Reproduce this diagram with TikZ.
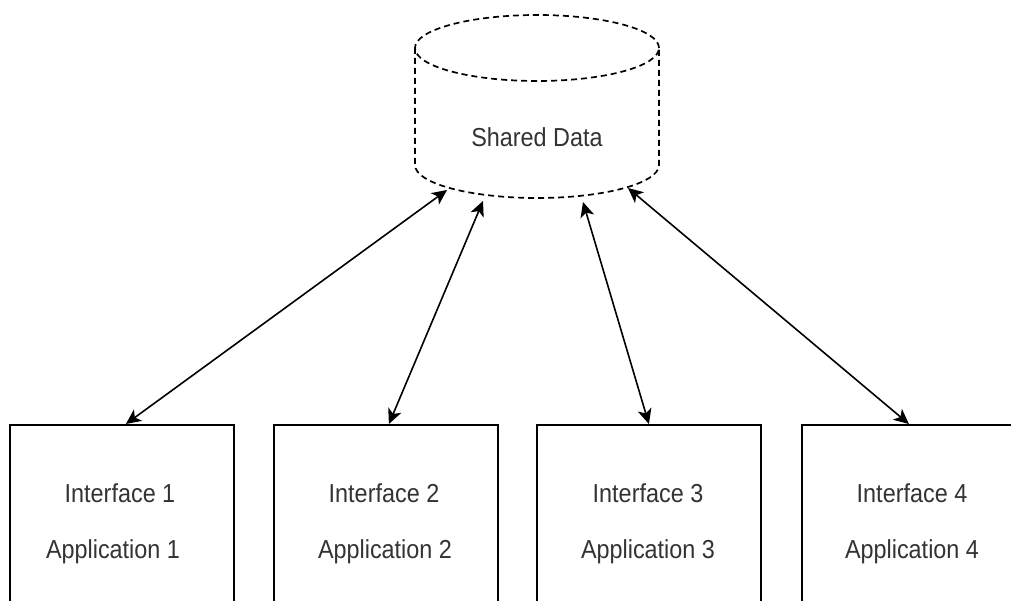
\documentclass[tikz,border=0pt]{standalone}
\usepackage{fontspec}
\setmainfont{Liberation Sans}[FakeStretch=0.9]
\usetikzlibrary{arrows.meta,calc}
\begin{document}
\begin{tikzpicture}[x=1pt,y=-1pt,
  appbox/.style={draw=black,line width=1.8pt,minimum width=224pt,minimum height=240pt,anchor=north west,inner sep=0pt},
  lbl/.style={font=\fontsize{26}{30}\selectfont,text=black!80,anchor=base,inner sep=0pt},
  link/.style={line width=1.6pt,{Stealth[length=15pt,width=14pt,inset=4pt]}-{Stealth[length=15pt,width=14pt,inset=4pt]}},
  dbline/.style={line width=1.7pt,dash pattern=on 6pt off 4pt}]
\clip (0,0) rectangle (1011,601);
\fill[white] (0,0) rectangle (1011,601);
% cylinder
\draw[dbline] (537,48) ellipse [x radius=122pt, y radius=33pt];
\draw[dbline] (415,48) -- (415,165) arc[start angle=180,end angle=360,x radius=122pt,y radius=33pt] -- (659,48);
\node[lbl] (sd) at (537,147) {Shared Data};
\coordinate (t1) at (447,190);
\coordinate (t2) at (483,201);
\coordinate (t3) at (583,202);
\coordinate (t4) at (628,188);
% boxes
\node[appbox] (b1) at (9,424) {};
\node[appbox] (b2) at (273,424) {};
\node[appbox] (b3) at (536,424) {};
\node[appbox] (b4) at (801,424) {};
\node[lbl] (i1) at (120,502) {Interface 1};
\node[lbl] (a1) at (113,558) {Application 1};
\node[lbl] (i2) at (384,502) {Interface 2};
\node[lbl] (a2) at (385,558) {Application 2};
\node[lbl] (i3) at (648,502) {Interface 3};
\node[lbl] (a3) at (648,558) {Application 3};
\node[lbl] (i4) at (912,502) {Interface 4};
\node[lbl] (a4) at (912,558) {Application 4};
% links
\draw[link] (t1) -- ($(b1.north)+(4,0)$);
\draw[link] (t2) -- ($(b2.north)+(3,0)$);
\draw[link] (t3) -- ($(b3.north)+(0,0)$);
\draw[link] (t4) -- ($(b4.north)+(-5,0)$);
\end{tikzpicture}
\end{document}
